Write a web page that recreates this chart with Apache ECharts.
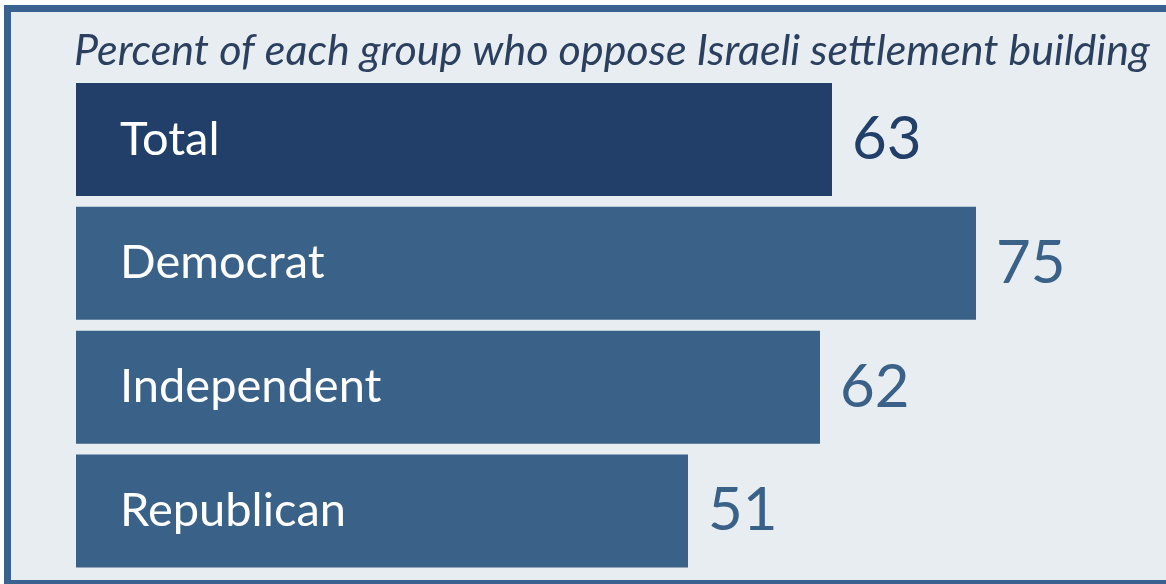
<!DOCTYPE html>
<html>
<head>
<meta charset="utf-8">
<script src="https://cdn.jsdelivr.net/npm/echarts@6/dist/echarts.min.js"></script>
<style>
  html, body { margin: 0; padding: 0; background: #ffffff; overflow: hidden; }
  #chart { width: 1166px; height: 584px; }
</style>
</head>
<body>
<div id="chart"></div>
<script>
// Survey groups, top to bottom
const categories = ['Total', 'Democrat', 'Independent', 'Republican'];
// Percent of each group who oppose settlement building
const values = [63, 75, 62, 51];
const titleText = 'Percent of each group who oppose Israeli settlement building';

const FONT = 'Lato, "Open Sans", sans-serif';
const barColors = ['#223f6a', '#3a6187', '#3a6187', '#3a6187'];
const frameColor = '#3a6190';

const chart = echarts.init(document.getElementById('chart'), null, { renderer: 'canvas' });

chart.setOption({
  backgroundColor: '#ffffff',
  animation: false,
  graphic: [
    {
      // panel fill
      type: 'rect',
      z: -10,
      silent: true,
      shape: { x: 4, y: 5, width: 1162, height: 579 },
      style: { fill: '#e8edf2' }
    },
    {
      // frame on the left, top and bottom edges (open on the right)
      type: 'polyline',
      z: -9,
      silent: true,
      shape: { points: [[1166, 8.5], [7.5, 8.5], [7.5, 583.5], [1166, 583.5]] },
      style: { fill: null, stroke: frameColor, lineWidth: 7, lineCap: 'butt' }
    }
  ],
  title: {
    text: titleText,
    left: 74,
    top: 30,
    padding: 0,
    textStyle: {
      fontFamily: FONT,
      fontStyle: 'italic',
      fontWeight: 'normal',
      fontSize: 43,
      color: '#2b3f5e'
    }
  },
  grid: { left: 76, right: 10, top: 77.5, bottom: 11, containLabel: false },
  xAxis: {
    type: 'value',
    min: 0,
    max: 90,
    show: false
  },
  yAxis: {
    type: 'category',
    data: categories,
    inverse: true,
    show: false
  },
  series: [
    {
      type: 'bar',
      data: values.map((v, i) => ({ value: v, itemStyle: { color: barColors[i] } })),
      barWidth: 113,
      label: {
        show: true,
        position: 'insideLeft',
        distance: 44,
        formatter: p => p.name,
        fontFamily: FONT,
        fontSize: 47,
        color: '#ffffff'
      }
    },
    {
      type: 'bar',
      data: values.map((v, i) => ({
        value: v,
        itemStyle: { color: 'rgba(0,0,0,0)' },
        label: { color: barColors[i] }
      })),
      barWidth: 113,
      barGap: '-100%',
      silent: true,
      label: {
        show: true,
        position: 'right',
        distance: 20,
        fontFamily: FONT,
        fontSize: 60
      }
    }
  ]
});
</script>
</body>
</html>
